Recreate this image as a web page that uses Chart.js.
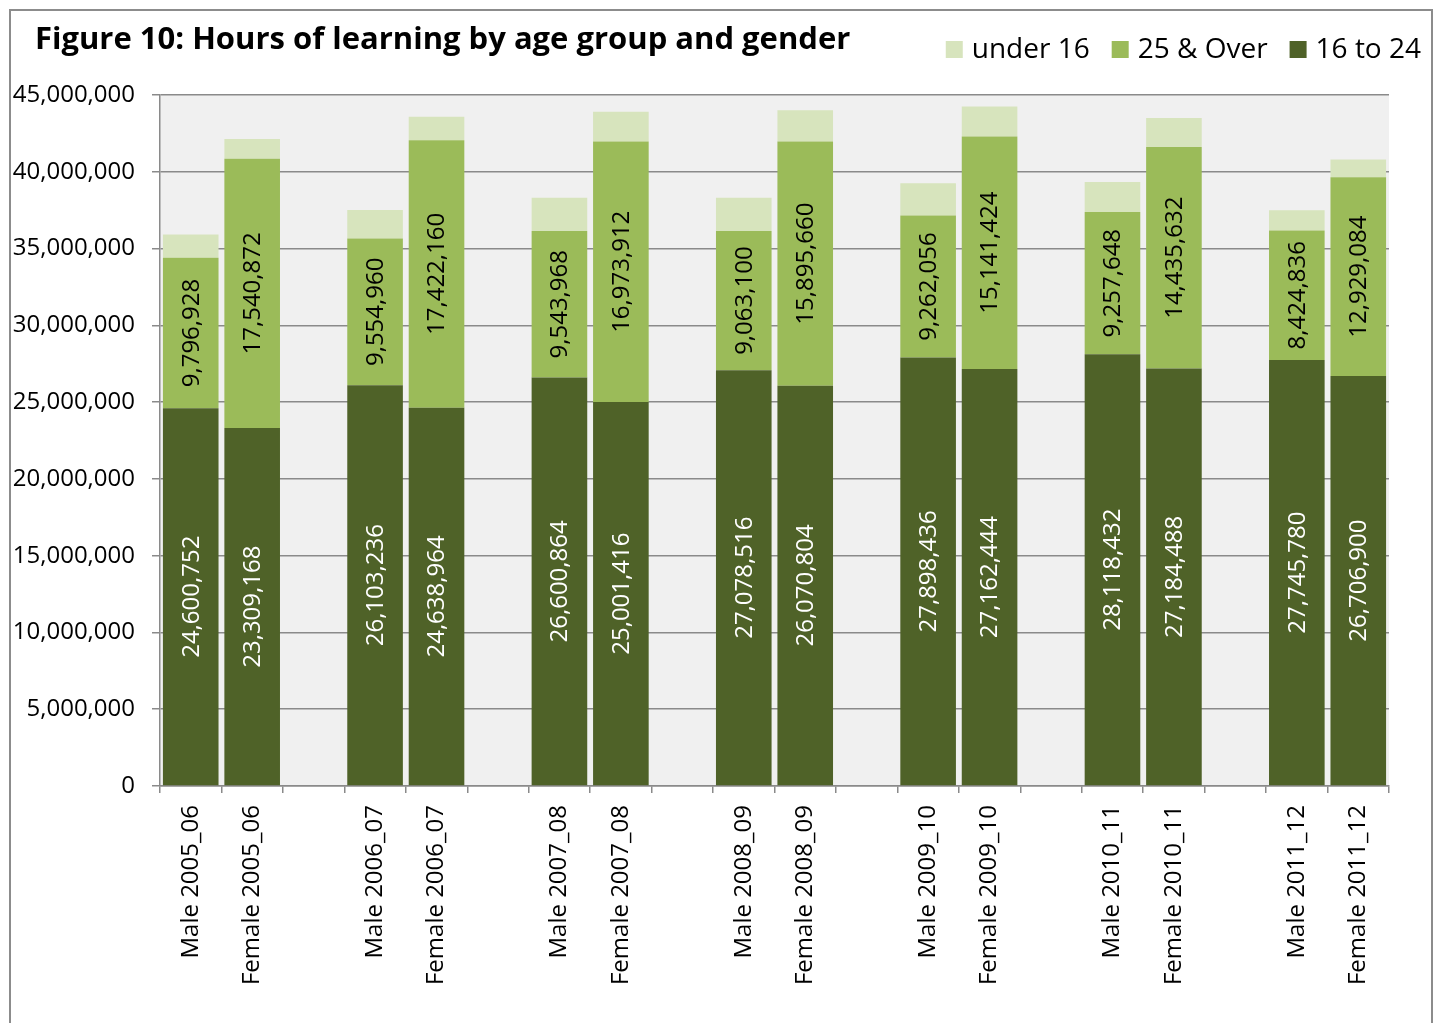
<!DOCTYPE html>
<html>
<head>
<meta charset="utf-8">
<title>Figure 10</title>
<script src="https://cdn.jsdelivr.net/npm/chart.js@4.4.1/dist/chart.umd.min.js"></script>
<style>
    body { margin: 0; background: #fff; overflow: hidden; }
    #wrap { position: relative; width: 1438px; height: 1023px; }
    #frame {
        position: absolute; left: 9px; top: 9px; width: 1424px; height: 1040px;
        border: 2px solid #8c8c8c; box-sizing: border-box; pointer-events: none;
    }
</style>
</head>
<body>
<div id="wrap">
    <canvas id="chart" width="1438" height="1023"></canvas>
    <div id="frame"></div>
</div>
<script>
// categories, '' marks the empty slot between years
const categories = [
    'Male 2005_06', 'Female 2005_06', '',
    'Male 2006_07', 'Female 2006_07', '',
    'Male 2007_08', 'Female 2007_08', '',
    'Male 2008_09', 'Female 2008_09', '',
    'Male 2009_10', 'Female 2009_10', '',
    'Male 2010_11', 'Female 2010_11', '',
    'Male 2011_12', 'Female 2011_12'
];
const age16to24 = [
    24600752, 23309168, null,
    26103236, 24638964, null,
    26600864, 25001416, null,
    27078516, 26070804, null,
    27898436, 27162444, null,
    28118432, 27184488, null,
    27745780, 26706900
];
const age25over = [
    9796928, 17540872, null,
    9554960, 17422160, null,
    9543968, 16973912, null,
    9063100, 15895660, null,
    9262056, 15141424, null,
    9257648, 14435632, null,
    8424836, 12929084
];
// no labels on these in the figure
const under16 = [
    1520000, 1280000, null,
    1850000, 1520000, null,
    2170000, 1940000, null,
    2170000, 2040000, null,
    2090000, 1940000, null,
    1960000, 1890000, null,
    1330000, 1170000
];
const yTicks = [0, 5000000, 10000000, 15000000, 20000000, 25000000, 30000000, 35000000, 40000000, 45000000];

const FONT = '"Open Sans", "Noto Sans", sans-serif';
const GRID = '#8a8a8a';

// grey plot area
const plotBackground = {
    id: 'plotBackground',
    beforeDraw(chart) {
        const { ctx, chartArea: a } = chart;
        ctx.save();
        ctx.fillStyle = '#f0f0f0';
        ctx.fillRect(a.left, a.top, a.right - a.left, a.bottom - a.top);
        ctx.restore();
    }
};

// vertical value labels inside the two lower segments
const barLabels = {
    id: 'barLabels',
    afterDatasetsDraw(chart) {
        const ctx = chart.ctx;
        [0, 1].forEach(di => {
            const ds = chart.data.datasets[di];
            chart.getDatasetMeta(di).data.forEach((bar, i) => {
                const v = ds.data[i];
                if (v == null) return;
                const { x, y, base } = bar.getProps(['x', 'y', 'base'], true);
                ctx.save();
                ctx.translate(x, (y + base) / 2);
                ctx.rotate(-Math.PI / 2);
                ctx.font = '24px ' + FONT;
                ctx.fillStyle = di === 0 ? '#ffffff' : '#000000';
                ctx.textAlign = 'center';
                ctx.textBaseline = 'middle';
                ctx.fillText(v.toLocaleString('en-US'), 0, 1);
                ctx.restore();
            });
        });
    }
};

// title on the left, legend on the right of the same row
const header = {
    id: 'header',
    afterDraw(chart) {
        const ctx = chart.ctx;
        ctx.save();
        ctx.fillStyle = '#000';
        ctx.textBaseline = 'alphabetic';
        ctx.font = 'bold 31px ' + FONT;
        ctx.fillText('Figure 10: Hours of learning by age group and gender', 35, 49);

        ctx.font = '28px ' + FONT;
        const items = chart.data.datasets.slice().reverse();
        const box = 17, gap = 9, between = 22;
        let total = 0;
        items.forEach((d, i) => {
            total += box + gap + ctx.measureText(d.label).width + (i ? between : 0);
        });
        let x = 1421 - total;
        ctx.textBaseline = 'middle';
        items.forEach(d => {
            ctx.fillStyle = d.backgroundColor;
            ctx.fillRect(x, 41, box, box);
            x += box + gap;
            ctx.fillStyle = '#000';
            ctx.fillText(d.label, x, 50);
            x += ctx.measureText(d.label).width + between;
        });
        ctx.restore();
    }
};

new Chart(document.getElementById('chart'), {
    type: 'bar',
    data: {
        labels: categories,
        datasets: [
            { label: '16 to 24', data: age16to24, backgroundColor: '#4f6228' },
            { label: '25 & Over', data: age25over, backgroundColor: '#9bbb59' },
            { label: 'under 16', data: under16, backgroundColor: '#d7e4bd' }
        ]
    },
    options: {
        responsive: false,
        animation: false,
        layout: { padding: { left: 10, right: 49, top: 95, bottom: 0 } },
        datasets: { bar: { barPercentage: 0.905, categoryPercentage: 1 } },
        plugins: {
            legend: { display: false },
            tooltip: { enabled: false }
        },
        scales: {
            x: {
                stacked: true,
                grid: { drawOnChartArea: false, offset: true, color: GRID, lineWidth: 1.5, tickLength: 7 },
                border: { color: GRID, width: 1.5 },
                ticks: {
                    color: '#000', font: { family: FONT, size: 24 },
                    minRotation: 90, maxRotation: 90, autoSkip: false, padding: 12
                },
                afterFit(scale) { scale.height = 237; }
            },
            y: {
                stacked: true,
                min: 0,
                max: 45000000,
                grid: { color: GRID, lineWidth: 1.5, tickLength: 8 },
                border: { color: GRID, width: 1.5 },
                afterBuildTicks(scale) { scale.ticks = yTicks.map(v => ({ value: v })); },
                ticks: {
                    color: '#000', font: { family: FONT, size: 24 }, padding: 17,
                    callback: v => v.toLocaleString('en-US')
                },
                afterFit(scale) { scale.width = 150; }
            }
        }
    },
    plugins: [plotBackground, barLabels, header]
});
</script>
</body>
</html>
